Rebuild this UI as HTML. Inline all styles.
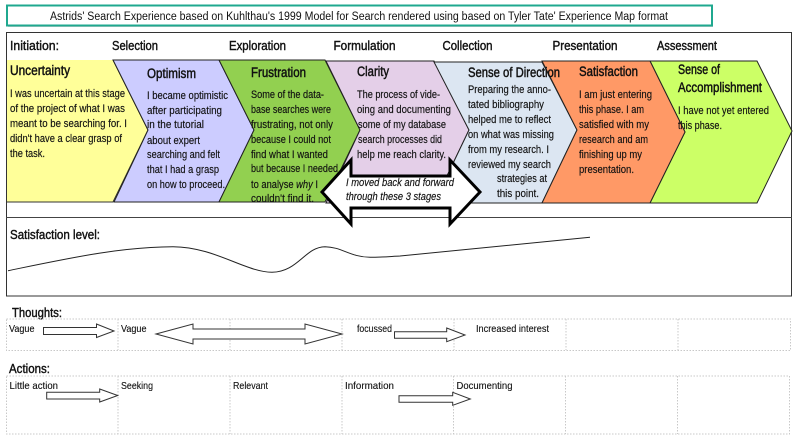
<!DOCTYPE html>
<html><head><meta charset="utf-8"><style>
html,body{margin:0;padding:0;background:#fff;width:800px;height:445px;overflow:hidden}
svg{display:block}
text{font-family:"Liberation Sans",sans-serif;fill:#111}
.b{font-size:11px;stroke:#111;stroke-width:.15}
.h{font-size:12.500px;stroke:#111;stroke-width:.4}
.t{font-size:13.500px;stroke:#111;stroke-width:.45}
.s{font-size:10.500px;stroke:#111;stroke-width:.12}
.c{stroke:#222;stroke-width:1}
.a{fill:#fff;stroke:#333;stroke-width:1}
.d{fill:none;stroke:#c8c8c8;stroke-width:1;stroke-dasharray:1.5 1.5}
</style></head><body>
<svg width="800" height="445" viewBox="0 0 800 445" xmlns="http://www.w3.org/2000/svg">
<rect width="800" height="445" fill="#fff"/>
<rect x="8" y="7" width="705" height="20" fill="#999" opacity=".45"/>
<rect x="7" y="5.500" width="705" height="20" fill="#fff" stroke="#1fa88f" stroke-width="2"/>
<text x="50" y="20" font-size="11.500" textLength="618" lengthAdjust="spacingAndGlyphs">Astrids' Search Experience based on Kuhlthau's 1999 Model for Search rendered using based on Tyler Tate' Experience Map format</text>
<rect x="6.500" y="32.500" width="785" height="263.500" fill="#fff" stroke="#333" stroke-width="1"/>
<line x1="6" y1="217.500" x2="792" y2="217.500" stroke="#444" stroke-width="1"/>
<text class="h" x="10" y="50" textLength="49" lengthAdjust="spacingAndGlyphs">Initiation:</text>
<text class="h" x="112" y="50" textLength="46" lengthAdjust="spacingAndGlyphs">Selection</text>
<text class="h" x="229" y="50" textLength="57" lengthAdjust="spacingAndGlyphs">Exploration</text>
<text class="h" x="333.500" y="50" textLength="62" lengthAdjust="spacingAndGlyphs">Formulation</text>
<text class="h" x="442.500" y="50" textLength="50" lengthAdjust="spacingAndGlyphs">Collection</text>
<text class="h" x="552.500" y="50" textLength="65" lengthAdjust="spacingAndGlyphs">Presentation</text>
<text class="h" x="657" y="50" textLength="60" lengthAdjust="spacingAndGlyphs">Assessment</text>
<polygon points="7,60 113,60 148,130 113,202 7,202" fill="#ffff99"/>
<line x1="7" y1="202" x2="113" y2="202" stroke="#333"/>
<polyline points="113,60 148,130 113,202" fill="none" stroke="#333"/>
<polygon class="c" points="113,60 219,60 254,130 219,202 114,202 148,130" fill="#ccccff"/>
<polygon class="c" points="219,60 325,60 360,130 325,202 219,202 254,130" fill="#92d050"/>
<polygon class="c" points="326,61 434,61 469,130 434,203 326,203 360,130" fill="#e4cfe8"/>
<polygon class="c" points="434,62 542,62 577,130 542,203 434,203 469,130" fill="#dce6f2"/>
<polygon class="c" points="650,61 757,61 792,131 757,203 650,203 685,132" fill="#ccff66"/>
<polygon class="c" points="542,61 650,61 685,132 650,203 542,203 577,130" fill="#ff9966"/>

<text class="t" x="10" y="75" textLength="60" lengthAdjust="spacingAndGlyphs">Uncertainty</text>
<text class="b" x="10" y="97" textLength="115" lengthAdjust="spacingAndGlyphs">I was uncertain at this stage</text>
<text class="b" x="10" y="112" textLength="115" lengthAdjust="spacingAndGlyphs">of the project of what I was</text>
<text class="b" x="10" y="127" textLength="117" lengthAdjust="spacingAndGlyphs">meant to be searching for.  I</text>
<text class="b" x="10" y="142" textLength="112" lengthAdjust="spacingAndGlyphs">didn't have a clear grasp of</text>
<text class="b" x="10" y="157" textLength="35" lengthAdjust="spacingAndGlyphs">the task.</text>

<text class="t" x="147" y="78" textLength="49" lengthAdjust="spacingAndGlyphs">Optimism</text>
<text class="b" x="147" y="99" textLength="81" lengthAdjust="spacingAndGlyphs">I became optimistic</text>
<text class="b" x="147" y="114" textLength="75" lengthAdjust="spacingAndGlyphs">after participating</text>
<text class="b" x="147" y="128" textLength="57" lengthAdjust="spacingAndGlyphs">in the tutorial</text>
<text class="b" x="147" y="144" textLength="53" lengthAdjust="spacingAndGlyphs">about expert</text>
<text class="b" x="147" y="158" textLength="73" lengthAdjust="spacingAndGlyphs">searching and felt</text>
<text class="b" x="147" y="173" textLength="72" lengthAdjust="spacingAndGlyphs">that I had a grasp</text>
<text class="b" x="147" y="188" textLength="78" lengthAdjust="spacingAndGlyphs">on how to proceed.</text>

<text class="t" x="251" y="77" textLength="55" lengthAdjust="spacingAndGlyphs">Frustration</text>
<text class="b" x="251" y="98" textLength="73" lengthAdjust="spacingAndGlyphs">Some of the data-</text>
<text class="b" x="251" y="113" textLength="80" lengthAdjust="spacingAndGlyphs">base searches were</text>
<text class="b" x="251" y="128" textLength="82" lengthAdjust="spacingAndGlyphs">frustrating, not only</text>
<text class="b" x="251" y="143" textLength="80" lengthAdjust="spacingAndGlyphs">because I could not</text>
<text class="b" x="251" y="158" textLength="77" lengthAdjust="spacingAndGlyphs">find what I wanted</text>
<text class="b" x="251" y="172" textLength="87" lengthAdjust="spacingAndGlyphs">but because I needed</text>
<text class="b" x="251" y="188" textLength="67" lengthAdjust="spacingAndGlyphs">to analyse <tspan font-style="italic">why</tspan> I</text>
<text class="b" x="251" y="202" textLength="63" lengthAdjust="spacingAndGlyphs">couldn't find it.</text>

<text class="t" x="357" y="76" textLength="32" lengthAdjust="spacingAndGlyphs">Clarity</text>
<text class="b" x="357" y="98" textLength="83" lengthAdjust="spacingAndGlyphs">The process of vide-</text>
<text class="b" x="357" y="113" textLength="94" lengthAdjust="spacingAndGlyphs">oing and documenting</text>
<text class="b" x="358" y="128" textLength="88" lengthAdjust="spacingAndGlyphs">some of my database</text>
<text class="b" x="358" y="143" textLength="84" lengthAdjust="spacingAndGlyphs">search processes did</text>
<text class="b" x="357" y="158" textLength="89" lengthAdjust="spacingAndGlyphs">help me reach clarity.</text>

<text class="t" x="468" y="77" textLength="92" lengthAdjust="spacingAndGlyphs">Sense of Direction</text>
<text class="b" x="468" y="93" textLength="83" lengthAdjust="spacingAndGlyphs">Preparing the anno-</text>
<text class="b" x="468" y="108" textLength="76" lengthAdjust="spacingAndGlyphs">tated bibliography</text>
<text class="b" x="468" y="123" textLength="83" lengthAdjust="spacingAndGlyphs">helped me to reflect</text>
<text class="b" x="468" y="138" textLength="86" lengthAdjust="spacingAndGlyphs">on what was missing</text>
<text class="b" x="468" y="153" textLength="81" lengthAdjust="spacingAndGlyphs">from my research. I</text>
<text class="b" x="468" y="168" textLength="83" lengthAdjust="spacingAndGlyphs">reviewed my search</text>
<text class="b" x="497" y="182" textLength="50" lengthAdjust="spacingAndGlyphs">strategies at</text>
<text class="b" x="497" y="197" textLength="42" lengthAdjust="spacingAndGlyphs">this point.</text>

<text class="t" x="579" y="76" textLength="59" lengthAdjust="spacingAndGlyphs">Satisfaction</text>
<text class="b" x="579" y="98" textLength="73" lengthAdjust="spacingAndGlyphs">I am just entering</text>
<text class="b" x="579" y="113" textLength="65" lengthAdjust="spacingAndGlyphs">this phase. I am</text>
<text class="b" x="579" y="128" textLength="70" lengthAdjust="spacingAndGlyphs">satisfied with my</text>
<text class="b" x="579" y="143" textLength="69" lengthAdjust="spacingAndGlyphs">research and am</text>
<text class="b" x="579" y="158" textLength="63" lengthAdjust="spacingAndGlyphs">finishing up my</text>
<text class="b" x="579" y="173" textLength="55" lengthAdjust="spacingAndGlyphs">presentation.</text>

<text class="t" x="678" y="74" textLength="42" lengthAdjust="spacingAndGlyphs">Sense of</text>
<text class="t" x="678" y="92" textLength="84" lengthAdjust="spacingAndGlyphs">Accomplishment</text>
<text class="b" x="678" y="114" textLength="91" lengthAdjust="spacingAndGlyphs">I have not yet entered</text>
<text class="b" x="678" y="129" textLength="44" lengthAdjust="spacingAndGlyphs">this phase.</text>

<polygon points="322,192 351,160 351,176 450,176 450,160 480,192 450,224 450,208 351,208 351,224" fill="#fff" stroke="#000" stroke-width="3"/>
<text class="b" x="346" y="186" font-style="italic" textLength="108" lengthAdjust="spacingAndGlyphs">I moved back and forward</text>
<text class="b" x="346" y="200" font-style="italic" textLength="95" lengthAdjust="spacingAndGlyphs">through these 3 stages</text>

<text class="h" x="10" y="239" textLength="90" lengthAdjust="spacingAndGlyphs">Satisfaction level:</text>
<path d="M8,270.700 C70,258 120,247 173,246.700 C215,247 245,272 272,272.300 C298,272 305,247 325,246.700 C342,247 350,257 370,257.300 C380,257.300 390,256.500 400,256 L590,237.300" fill="none" stroke="#222" stroke-width="1"/>

<text class="h" x="12" y="317" textLength="50" lengthAdjust="spacingAndGlyphs">Thoughts:</text>
<rect class="d" x="6.500" y="319" width="784" height="31.500"/>
<path class="d" d="M118,319V350M230,319V350M342,319V350M454,319V350M566,319V350M678,319V350"/>
<text class="s" x="9" y="332" textLength="25.500" lengthAdjust="spacingAndGlyphs">Vague</text>
<text class="s" x="121" y="332" textLength="25.500" lengthAdjust="spacingAndGlyphs">Vague</text>
<text class="s" x="357" y="332" textLength="35" lengthAdjust="spacingAndGlyphs">focussed</text>
<text class="s" x="476" y="332" textLength="73" lengthAdjust="spacingAndGlyphs">Increased interest</text>
<polygon class="a" points="43.500,327.500 96.500,327.500 96.500,324 114,331 96.500,337.500 96.500,334.500 43.500,334.500"/>
<polygon class="a" points="156,334 193,324 193,329 305,329 305,324 342,334 305,344 305,339 193,339 193,344"/>
<polygon class="a" points="394.500,331.700 446.700,331.700 446.700,328 465,335 446.700,341.700 446.700,338.300 394.500,338.300"/>

<text class="h" x="9" y="373" textLength="41" lengthAdjust="spacingAndGlyphs">Actions:</text>
<rect class="d" x="6.500" y="376" width="783" height="58"/>
<path class="d" d="M118,376V434M230,376V434M342,376V434M453.500,376V434M565.500,376V434M677.500,376V434"/>
<text class="s" x="9.500" y="389" textLength="48.500" lengthAdjust="spacingAndGlyphs">Little action</text>
<text class="s" x="121" y="389" textLength="32" lengthAdjust="spacingAndGlyphs">Seeking</text>
<text class="s" x="233" y="389" textLength="35" lengthAdjust="spacingAndGlyphs">Relevant</text>
<text class="s" x="345" y="389" textLength="49" lengthAdjust="spacingAndGlyphs">Information</text>
<text class="s" x="456.500" y="389" textLength="56" lengthAdjust="spacingAndGlyphs">Documenting</text>
<polygon class="a" points="46.700,392.300 99.700,392.300 99.700,389 117.700,395.500 99.700,402 99.700,399 46.700,399"/>
<polygon class="a" points="399,395.700 452.700,395.700 452.700,392.300 470.300,399 452.700,405.300 452.700,402.300 399,402.300"/>
</svg>
</body></html>
